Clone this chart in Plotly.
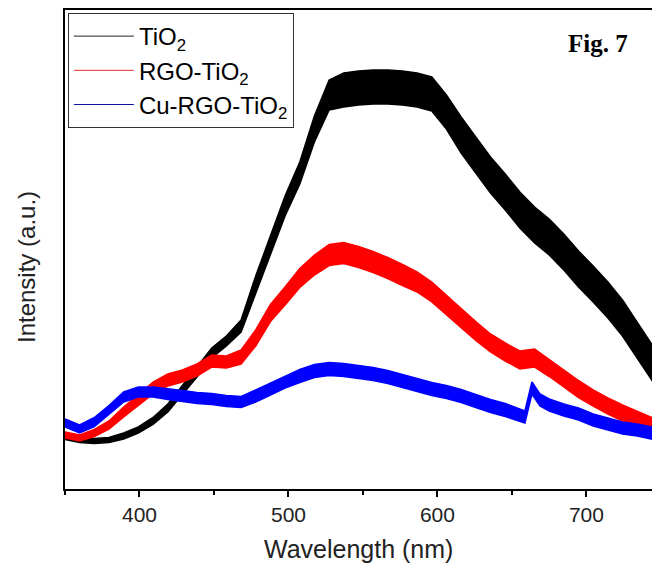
import plotly.graph_objects as go

# ---- data (intensity in arbitrary units) ----
wavelength = [350.0, 359.8, 369.7, 379.5, 389.4, 399.2, 409.1, 419.0, 428.8, 438.6,
              448.5, 458.3, 468.2, 478.0, 487.9, 497.7, 507.6, 517.4, 527.3, 537.1,
              547.0, 556.8, 566.6, 576.5, 586.3, 596.2, 606.0, 615.9, 625.7, 635.6,
              645.5, 655.3, 665.2, 675.0, 684.8, 694.7, 704.5, 714.4, 724.2, 734.1,
              743.9, 750.0]

tio2 = [52, 49, 48, 49, 53, 59, 68, 81, 99, 117,
        136, 148, 163, 204, 244, 283, 316, 360, 394, 399,
        401, 402, 402, 401, 399, 395, 377, 354, 334, 314,
        297, 279, 264, 252, 237, 220, 205, 189, 171, 149,
        127, 113]
tio2_spread = [5, 5, 5, 5, 6, 6, 7, 8, 9, 10,
               10, 10, 12, 18, 20, 20, 22, 26, 30, 34,
               34, 34, 34, 34, 34, 34, 34, 36, 36, 36,
               36, 36, 36, 36, 36, 36, 36, 36, 36, 36,
               36, 36]

rgo_tio2 = [54, 51, 56, 64, 77, 89, 101, 109, 113, 119,
            128, 127, 132, 151, 176, 193, 211, 224, 234, 236,
            232, 227, 221, 214, 207, 197, 184, 171, 158, 146,
            137, 129, 131, 121, 111, 100, 91, 83, 76, 70,
            64, 60]
rgo_tio2_spread = [6, 6, 7, 8, 10, 11, 12, 12, 12, 12,
                   12, 12, 14, 16, 17, 18, 19, 20, 21, 21,
                   21, 21, 21, 21, 20, 20, 19, 19, 19, 18,
                   18, 18, 18, 17, 17, 17, 16, 16, 16, 15,
                   15, 15]

cu_wavelength = [350.0, 359.8, 369.7, 379.5, 389.4, 399.2, 409.1, 419.0, 428.8, 438.6,
                 448.5, 458.3, 468.2, 478.0, 487.9, 497.7, 507.6, 517.4, 527.3, 537.1,
                 547.0, 556.8, 566.6, 576.5, 586.3, 596.2, 606.0, 615.9, 625.7, 635.6,
                 645.5, 655.3, 658.7, 663.4, 668.8, 675.0, 684.8, 694.7, 704.5, 714.4,
                 724.2, 734.1, 743.9, 750.0]
cu_rgo_tio2 = [66, 60, 67, 79, 92, 97, 97, 95, 93, 91,
               90, 88, 87, 93, 100, 107, 113, 118, 120, 119,
               117, 115, 112, 108, 104, 100, 97, 93, 88, 83,
               79, 74, 72, 101, 89, 84, 79, 75, 69, 65,
               61, 59, 56, 54]
cu_rgo_tio2_spread = [8, 8, 9, 9, 10, 10, 10, 11, 11, 11,
                      11, 11, 11, 12, 12, 12, 13, 13, 13, 13,
                      13, 13, 13, 13, 13, 13, 13, 13, 13, 13,
                      13, 13, 12, 12, 12, 12, 12, 12, 12, 12,
                      12, 12, 12, 12]

x_ticks = [400, 500, 600, 700]
x_minor_ticks = [350, 450, 550, 650]

series_names = ["TiO<sub>2</sub>", "RGO-TiO<sub>2</sub>", "Cu-RGO-TiO<sub>2</sub>"]
series_colors = ["#000000", "#ff0000", "#0000ff"]
legend_colors = ["#222222", "#e03030", "#1010a0"]
series_x = [wavelength, wavelength, cu_wavelength]
series_y = [tio2, rgo_tio2, cu_rgo_tio2]
series_spread = [tio2_spread, rgo_tio2_spread, cu_rgo_tio2_spread]

fig = go.Figure()
for name, col, xs, ys, sp in zip(series_names, series_colors, series_x, series_y, series_spread):
    lo = [v - d / 2 for v, d in zip(ys, sp)]
    hi = [v + d / 2 for v, d in zip(ys, sp)]
    fig.add_trace(go.Scatter(x=xs, y=lo, mode="lines", line=dict(color=col, width=1.5),
                             showlegend=False, hoverinfo="skip"))
    fig.add_trace(go.Scatter(x=xs, y=hi, mode="lines", line=dict(color=col, width=1.5),
                             fill="tonexty", fillcolor=col, showlegend=False, hoverinfo="skip"))
    fig.add_trace(go.Scatter(x=xs, y=ys, mode="lines", line=dict(color=col, width=2.5),
                             name=name, showlegend=False))

for i, (name, col) in enumerate(zip(series_names, legend_colors)):
    fig.add_trace(go.Scatter(x=[None], y=[None], mode="lines", line=dict(color=col, width=1),
                             name=name, showlegend=True, legendgroup="g%d" % i))

font_family = "Liberation Sans, Arial, sans-serif"

fig.update_layout(
    width=652, height=566, autosize=False,
    margin=dict(l=65, r=0, t=10, b=77),
    paper_bgcolor="white", plot_bgcolor="white",
    font=dict(family=font_family, color="black"),
    legend=dict(
        x=0.005, y=0.9937, xanchor="left", yanchor="top",
        bgcolor="white", bordercolor="#333333", borderwidth=1,
        font=dict(family=font_family, size=24, color="black"),
        itemwidth=60, traceorder="normal", tracegroupgap=3,
    ),
    xaxis=dict(
        range=[350, 744], showline=True, linecolor="black", linewidth=1.5, mirror=True,
        ticks="outside", ticklen=6, tickwidth=1.5, tickcolor="black",
        tickmode="array", tickvals=x_ticks, ticktext=[str(v) for v in x_ticks],
        tickfont=dict(family=font_family, size=21, color="#222222"),
        minor=dict(tickmode="array", tickvals=x_minor_ticks, ticks="outside",
                   ticklen=4, tickwidth=1.5, tickcolor="black"),
        showgrid=False, zeroline=False,
    ),
    yaxis=dict(
        range=[0, 479], showline=True, linecolor="black", linewidth=1.5, mirror=False,
        ticks="", showticklabels=False, showgrid=False, zeroline=False,
    ),
    annotations=[
        dict(text="Wavelength (nm)", xref="paper", yref="paper", x=0.5, y=-0.125,
             xanchor="center", yanchor="middle", showarrow=False,
             font=dict(family=font_family, size=25, color="#222222")),
        dict(text="Intensity (a.u.)", xref="paper", yref="paper", x=-0.0647, y=0.4635,
             xanchor="center", yanchor="middle", textangle=-90, showarrow=False,
             font=dict(family=font_family, size=24, color="#222222")),
        dict(text="<b>Fig. 7</b>", xref="paper", yref="paper", x=0.908, y=0.931,
             xanchor="center", yanchor="middle", showarrow=False,
             font=dict(family="Liberation Serif, Times New Roman, serif", size=25, color="black")),
    ],
)

fig.write_html("out.html")
